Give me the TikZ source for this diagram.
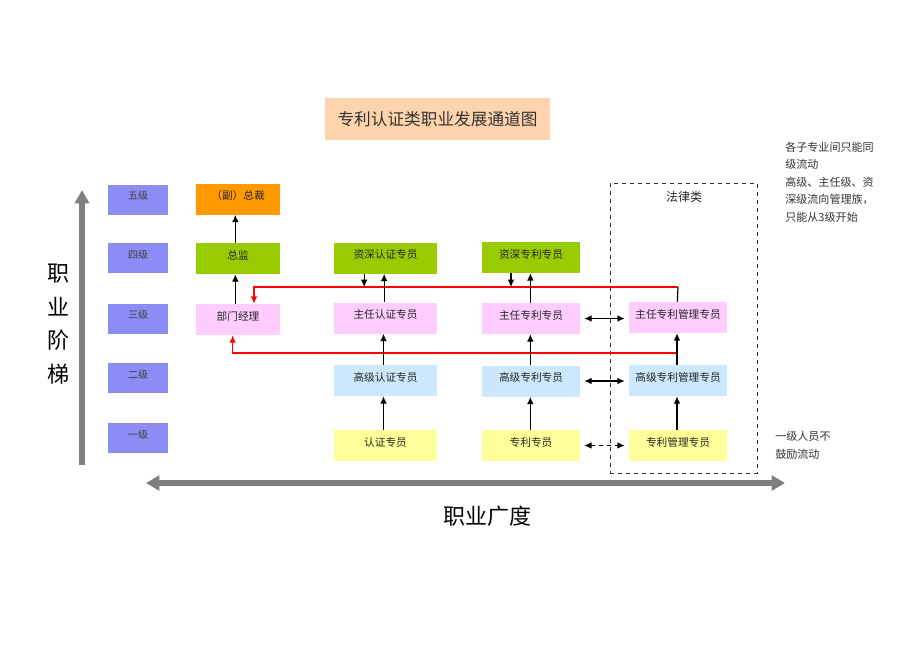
\documentclass[tikz,border=0pt]{standalone}
\usepackage{fontspec}
\setmainfont{Noto Sans CJK SC}
\usetikzlibrary{arrows.meta}
\definecolor{lvlc}{HTML}{8C8CF5}
\definecolor{orangec}{HTML}{FF9900}
\definecolor{greenc}{HTML}{99CC00}
\definecolor{pinkc}{HTML}{FFCCFF}
\definecolor{bluec}{HTML}{CCE8FF}
\definecolor{yellowc}{HTML}{FFFF99}
\definecolor{titlec}{HTML}{FFD4AC}
\definecolor{axisc}{HTML}{7F7F7F}
\definecolor{redc}{HTML}{FF0000}
\begin{document}
\begin{tikzpicture}[x=0.75pt,y=-0.75pt,
  base/.style={inner sep=0pt, text height=12pt, text depth=11.25pt, font=\fontsize{8}{10}\selectfont, text=black!85},
  lvl/.style={base, fill=lvlc, minimum width=45pt, text height=11.5pt, text depth=11pt, font=\fontsize{7.5}{9}\selectfont, text=black!75},
  c1/.style={base, minimum width=63pt},
  c2/.style={base, minimum width=77.25pt},
  c3/.style={base, minimum width=73.5pt},
  c4/.style={base, minimum width=73.5pt},
  arr/.style={line width=0.9pt, -{Latex[length=5.5pt,width=5pt]}},
  plain/.style={line width=0.9pt},
  darr/.style={line width=0.9pt, {Latex[length=5.5pt,width=5pt]}-{Latex[length=5.5pt,width=5pt]}, shorten <=3pt, shorten >=3pt},
  redarr/.style={line width=1.1pt, draw=redc, -{Latex[length=5.5pt,width=5pt]}, color=redc},
  axis/.style={line width=3.8pt, draw=axisc, color=axisc},
  note/.style={inner sep=0pt, anchor=north west, align=left, font=\fontsize{8.3}{13.1}\selectfont, text=black!80}
]
\useasboundingbox (0,0) rectangle (920,651);
\fill[white] (0,0) rectangle (920,651);

% title
\node[fill=titlec, minimum width=168.75pt, minimum height=31.5pt, inner sep=0pt, font=\fontsize{12.5}{14}\selectfont, text=black!80] (title) at (437.5,119) {专利认证类职业发展通道图};

% axes
\coordinate (vbot) at (82,465);
\coordinate (vtop) at (82,190);
\draw[axis, -{Triangle[length=10pt,width=10.5pt]}] (vbot) -- (vtop);
\coordinate (hl) at (146,483);
\coordinate (hr) at (785,483);
\draw[axis, {Triangle[length=10pt,width=11pt]}-{Triangle[length=10pt,width=11pt]}] (hl) -- (hr);
\node[align=center, inner sep=0pt, font=\fontsize{16.5}{25.3}\selectfont] (vlab) at (58,324) {职\\业\\阶\\梯};
\node[inner sep=0pt, font=\fontsize{16.5}{20}\selectfont] (hlab) at (487,516) {职业广度};

% level boxes
\node[lvl] (L5) at (138,199.5) {五级};
\node[lvl] (L4) at (138,258) {四级};
\node[lvl] (L3) at (138,318.5) {三级};
\node[lvl] (L2) at (138,378) {二级};
\node[lvl] (L1) at (138,438) {一级};

% law box
\node[draw=black!80, dashed, line width=0.7pt, minimum width=110.25pt, minimum height=217.5pt, inner sep=0pt] (law) at (683.5,328) {};
\node[inner sep=0pt, font=\fontsize{9}{11}\selectfont, text=black!85] (lawlab) at (684,197) {法律类};

% column 1
\node[c1, fill=orangec] (zc) at (238,199) {（副）总裁};
\node[c1, fill=greenc] (zj) at (238,258.5) {总监};
\node[c1, fill=pinkc] (bm) at (238,319.5) {部门经理};

% column 2
\node[c2, fill=greenc] (a1) at (385.5,258) {资深认证专员};
\node[c2, fill=pinkc] (a2) at (385.5,318) {主任认证专员};
\node[c2, fill=bluec] (a3) at (385.5,380.5) {高级认证专员};
\node[c2, fill=yellowc] (a4) at (385.5,445.5) {认证专员};

% column 3
\node[c3, fill=greenc] (b1) at (531,257.5) {资深专利专员};
\node[c3, fill=pinkc] (b2) at (531,318.5) {主任专利专员};
\node[c3, fill=bluec] (b3) at (531,381) {高级专利专员};
\node[c3, fill=yellowc] (b4) at (531,445.5) {专利专员};

% column 4
\node[c4, fill=pinkc] (g2) at (678,317.5) {主任专利管理专员};
\node[c4, fill=bluec] (g3) at (678,380.5) {高级专利管理专员};
\node[c4, fill=yellowc] (g4) at (678,445.5) {专利管理专员};

% red routes
\coordinate (r1) at (678,287);
\coordinate (r2) at (677,353);
\draw[plain] ([xshift=-0.5pt]g2.north) -- (r1);
\draw[redarr] (r1) -| ([xshift=12pt]bm.north);
\draw[redarr] (r2) -| ([xshift=-4pt]bm.south);

% column 1 arrows
\draw[arr] ([xshift=-2pt]zj.north) -- ([xshift=-2pt]zc.south);
\draw[arr] ([xshift=-2pt]bm.north) -- ([xshift=-2pt]zj.south);

% column 2 arrows
\draw[arr] ([xshift=-16pt]a1.south) -- ([xshift=-16pt]a1.south |- r1);
\draw[arr] ([xshift=-1pt]a2.north) -- ([xshift=-1pt]a1.south);
\draw[arr] ([xshift=-1.5pt]a3.north) -- ([xshift=-1.5pt]a2.south);
\draw[arr] ([xshift=-1.5pt]a4.north) -- ([xshift=-1.5pt]a3.south);

% column 3 arrows
\draw[arr] ([xshift=-15pt]b1.south) -- ([xshift=-15pt]b1.south |- r1);
\draw[arr] ([xshift=-0.5pt]b2.north) -- ([xshift=-0.5pt]b1.south);
\draw[arr] ([xshift=-0.5pt]b3.north) -- ([xshift=-0.5pt]b2.south);
\draw[arr] ([xshift=-0.5pt]b4.north) -- ([xshift=-0.5pt]b3.south);

% column 4 arrows
\draw[arr] ([xshift=-0.75pt]g3.north) -- ([xshift=-0.75pt]g2.south);
\draw[arr] ([xshift=-0.75pt]g4.north) -- ([xshift=-0.75pt]g3.south);

% horizontal exchanges
\draw[darr] (b2.east) -- (b2.east -| g2.west);
\draw[darr] (b3.east) -- (b3.east -| g3.west);
\draw[darr, dashed] (b4.east) -- (b4.east -| g4.west);

% notes
\node[note] (n1) at (785,141.5) {各子专业间只能同\\级流动\\高级、主任级、资\\深级流向管理族，\\只能从3级开始};
\node[note] (n2) at (775,431) {一级人员不\\鼓励流动};
\end{tikzpicture}
\end{document}
